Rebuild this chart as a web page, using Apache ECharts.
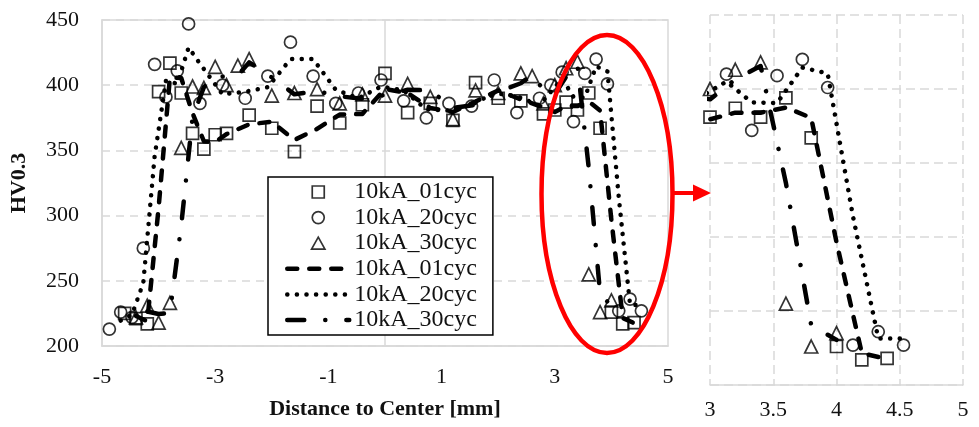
<!DOCTYPE html>
<html>
<head>
<meta charset="utf-8">
<script src="https://cdn.jsdelivr.net/npm/echarts@6/dist/echarts.min.js"></script>
<style>
html,body{margin:0;padding:0;background:#fff;}
#c{width:979px;height:427px;}
</style>
</head>
<body>
<div id="c"></div>
<script>
// ---- data ----
const sqX = [-4.6,-4.4,-4.2,-4.0,-3.8,-3.6,-3.4,-3.2,-3.0,-2.8,-2.4,-2.0,-1.6,-1.2,-0.8,-0.4,0,0.4,0.8,1.2,1.6,2.0,2.4,2.8,3.0,3.2,3.4,3.6,3.8,4.0,4.2,4.4];
const sqY = [225,221,217,395,417,394,363,351,362,363,377,367,349,384,371,385,409,379,386,373,402,390,388,378,381,387,381,394,367,226,217,218];

const ciX = [-4.87,-4.67,-4.47,-4.27,-4.07,-3.87,-3.67,-3.47,-3.27,-2.87,-2.47,-2.07,-1.67,-1.27,-0.87,-0.47,-0.07,0.33,0.73,1.13,1.53,1.93,2.33,2.73,2.93,3.13,3.33,3.53,3.73,3.93,4.13,4.33,4.53];
const ciY = [213,226,222,275,416,391,411,447,386,400,390,407,433,407,386,394,404,388,375,386,384,404,379,390,400,410,372,409,420,401,227,236,227];

const trX = [-4.4,-4.2,-4.0,-3.8,-3.6,-3.4,-3.2,-3.0,-2.8,-2.6,-2.4,-2.0,-1.6,-1.2,-0.8,-0.4,0,0.4,0.8,1.2,1.6,2.0,2.4,2.6,2.8,3.0,3.2,3.4,3.6,3.8,4.0];
const trY = [222,231,218,233,352,399,398,414,400,415,420,392,394,397,386,393,392,401,391,374,396,394,409,407,386,400,413,418,255,226,235];

// trend lines (moving-average curves as drawn in the picture)
const l01X = sqX.slice(1);
const l01Y = [223,219,306,406,405.5,378.5,357,356.5,362.5,370,372,358,366.5,377.5,378,397,394,382.5,379.5,387.5,396,389,383,379.5,384,384,387.5,380.5,296.5,221.5,217.5];
const l20X = ciX.slice(1);
const l20Y = [219.5,224,248.5,345.5,403.5,401,429,416.5,393,395,398.5,420,420,396.5,390,399,396,381.5,380.5,385,394,391.5,384.5,395,405,391,390.5,414.5,410.5,314,231.5,231.5];
const l30X = trX.slice(1);
const l30Y = [226.5,224.5,225.5,292.5,375.5,398.5,406,407,407.5,417.5,406,393,395.5,391.5,389.5,392.5,396.5,396,382.5,385,395,401.5,408,396.5,393,406.5,415.5,336.5,240.5,230.5];

const names = ['10kA_01cyc','10kA_20cyc','10kA_30cyc','10kA_01cyc\u200b','10kA_20cyc\u200b','10kA_30cyc\u200b'];
const mainXTicks = [-5,-3,-1,1,3,5];

// ---- build ----
const zip = (xs, ys) => xs.map((x, i) => [x, ys[i]]);
const FONT = 'Liberation Serif';
const GRAY = '#d9d9d9';
const CLEAR = 'rgba(0,0,0,0)';

const DASH01 = [10, 12];
const DASH20 = [0.1, 9.5];
const DASH30 = [17, 21, 0.1, 21];
const LINES = [[DASH01, 4.5], [DASH20, 4.5], [DASH30, 4.5]];

function scatter(name, sym, xs, ys, gi, extra) {
  return Object.assign({
    type: 'scatter', name, xAxisIndex: gi, yAxisIndex: gi,
    symbol: sym, symbolSize: sym === 'triangle' ? 13 : 12,
    itemStyle: {color: CLEAR, borderColor: '#000', borderWidth: 1.7},
    data: zip(xs, ys), z: 3, silent: true
  }, extra || {});
}
function line(name, dash, width, xs, ys, gi) {
  return {
    type: 'line', name, xAxisIndex: gi, yAxisIndex: gi,
    symbol: 'none', showSymbol: false, smooth: false,
    lineStyle: {color: '#000', width: width, type: dash, cap: 'round', join: 'round'},
    itemStyle: {color: CLEAR, borderColor: CLEAR, borderWidth: 0},
    data: zip(xs, ys), z: 4, silent: true, clip: true
  };
}

const series = [];
for (let gi = 0; gi < 2; gi++) {
  series.push(scatter(names[0], 'rect', sqX, sqY, gi, gi === 0 ? {
    markLine: {silent: true, symbol: ['none','none'], label: {show: false},
      lineStyle: {color: GRAY, type: 'solid', width: 1.5}, data: [{xAxis: 0}], z: 1}
  } : {}));
  series.push(scatter(names[1], 'circle', ciX, ciY, gi));
  series.push(scatter(names[2], 'triangle', trX, trY, gi));
  series.push(line(names[3], LINES[0][0], LINES[0][1], l01X, l01Y, gi));
  series.push(line(names[4], LINES[1][0], LINES[1][1], l20X, l20Y, gi));
  series.push(line(names[5], LINES[2][0], LINES[2][1], l30X, l30Y, gi));
}

const ICONS = [
  'path://M0,0L10,0L10,10L0,10Z',
  'path://M5,0A5,5,0,1,1,4.99,0Z',
  'path://M5,0L10,9L0,9Z'
];
const legendData = names.map((n, i) => i < 3
  ? {name: n, icon: ICONS[i], itemStyle: {color: CLEAR, borderColor: '#000', borderWidth: 1.7}}
  : {name: n, itemStyle: {color: CLEAR, borderColor: CLEAR, borderWidth: 0, opacity: 0},
     lineStyle: {color: '#000', width: LINES[i - 3][1], type: LINES[i - 3][0], cap: 'round'}});

const tickLabel = {fontFamily: FONT, fontSize: 22, color: '#111'};

const option = {
  animation: false,
  backgroundColor: '#fff',
  grid: [
    {left: 98, right: 311, top: 20, bottom: 81, show: true, borderColor: GRAY, borderWidth: 1.5, backgroundColor: CLEAR},
    {left: 710, right: 16, top: 15, bottom: 42}
  ],
  xAxis: [
    {type: 'value', gridIndex: 0, min: -5, max: 5, interval: 1,
     axisLine: {show: true, onZero: false, lineStyle: {color: GRAY, width: 1.5}},
     axisTick: {show: false}, splitLine: {show: false},
     axisLabel: Object.assign({margin: 20, formatter: v => mainXTicks.indexOf(Math.round(v)) >= 0 ? String(Math.round(v)) : ''}, tickLabel),
     name: 'Distance to Center [mm]', nameLocation: 'middle', nameGap: 52,
     nameTextStyle: {fontFamily: FONT, fontSize: 22, fontWeight: 'bold', color: '#111'}},
    {type: 'value', gridIndex: 1, min: 3, max: 5, interval: 0.5,
     axisLine: {show: true, onZero: false, lineStyle: {color: GRAY, width: 1.5}},
     axisTick: {show: false},
     splitLine: {show: true, lineStyle: {color: GRAY, width: 1.5, type: [9, 5]}},
     axisLabel: Object.assign({margin: 14}, tickLabel)}
  ],
  yAxis: [
    {type: 'value', gridIndex: 0, min: 200, max: 450, interval: 50,
     axisLine: {show: true, onZero: false, lineStyle: {color: GRAY, width: 1.5}},
     axisTick: {show: false},
     splitLine: {show: true, lineStyle: {color: GRAY, width: 1.5, type: [8, 6]}},
     axisLabel: Object.assign({margin: 23}, tickLabel),
     name: 'HV0.3', nameLocation: 'middle', nameGap: 72,
     nameTextStyle: {fontFamily: FONT, fontSize: 22, fontWeight: 'bold', color: '#111'}},
    {type: 'value', gridIndex: 1, min: 200, max: 450, interval: 50,
     axisLine: {show: false}, axisTick: {show: false}, axisLabel: {show: false},
     splitLine: {show: true, lineStyle: {color: GRAY, width: 1.5, type: [9, 5]}}}
  ],
  legend: {
    data: legendData, orient: 'vertical', left: 268, top: 177,
    padding: [3, 16, 3, 17], itemGap: 1.6, itemWidth: 62, itemHeight: 12,
    symbolKeepAspect: true,
    backgroundColor: '#fff', borderColor: '#000', borderWidth: 1.5, borderRadius: 0,
    selectedMode: false, z: 10,
    textStyle: {fontFamily: FONT, fontSize: 24, color: '#111', lineHeight: 24}
  },
  series: series,
  graphic: [
    {type: 'ellipse', shape: {cx: 607, cy: 194, rx: 65.5, ry: 159}, silent: true, z: 100,
     style: {fill: 'none', stroke: '#ff0000', lineWidth: 4.5}},
    {type: 'line', shape: {x1: 673, y1: 193, x2: 696, y2: 193}, silent: true, z: 100,
     style: {stroke: '#ff0000', lineWidth: 4}},
    {type: 'polygon', shape: {points: [[693, 184.5], [711, 193], [693, 201.5]]}, silent: true, z: 100,
     style: {fill: '#ff0000'}}
  ]
};

const chart = echarts.init(document.getElementById('c'), null, {renderer: 'canvas'});
chart.setOption(option);
</script>
</body>
</html>
